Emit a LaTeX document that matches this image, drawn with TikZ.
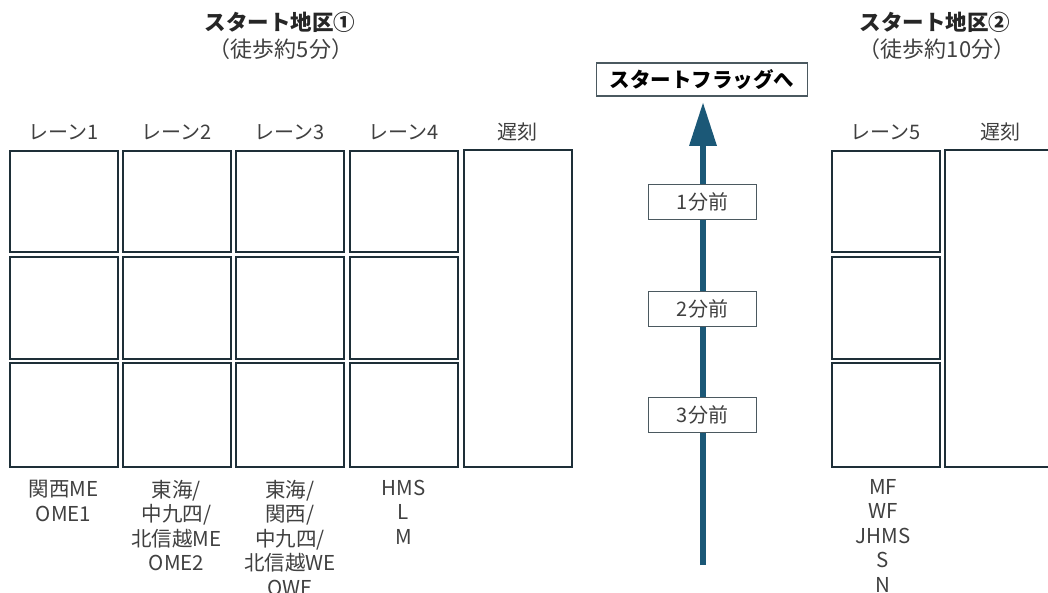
\documentclass[tikz,border=0pt]{standalone}
\usepackage{fontspec}
\setmainfont{Noto Sans CJK JP}
\usetikzlibrary{arrows.meta}
\definecolor{boxline}{HTML}{1E2F38}
\definecolor{txtgray}{HTML}{404040}
\definecolor{arrowblue}{HTML}{1B5877}
\begin{document}
\begin{tikzpicture}[x=1pt,y=-1pt,
  cell/.style={draw=boxline,line width=2pt,fill=white,inner sep=0pt,minimum width=108pt},
  lanelbl/.style={text=txtgray,font=\fontsize{20}{22}\selectfont,inner sep=0pt},
  grouplbl/.style={text=txtgray,font=\fontsize{20.5}{24.5}\selectfont,align=center,inner sep=0pt,anchor=north},
  ttl/.style={text=black!85,font=\fontsize{21.5}{24}\selectfont\bfseries,inner sep=0pt},
  subttl/.style={text=txtgray,font=\fontsize{22}{24}\selectfont,inner sep=0pt},
  timebox/.style={draw=boxline!80,line width=1.2pt,fill=white,minimum width=108pt,minimum height=35pt,inner sep=0pt,text=txtgray,font=\fontsize{20}{22}\selectfont},
  flagbox/.style={draw=boxline!80,line width=1.2pt,fill=white,minimum width=211pt,minimum height=33pt,inner sep=0pt,font=\fontsize{20.5}{22}\selectfont\bfseries}
]
\useasboundingbox (0,0) rectangle (1048,593);
\fill[white] (0,0) rectangle (1048,593);

% titles
\node[ttl] (t1) at (280,22) {スタート地区①};
\node[subttl] (s1) at (281,49) {（徒歩約5分）};
\node[ttl] (t2) at (935,22) {スタート地区②};
\node[subttl] (s2) at (937,49) {（徒歩約10分）};

% lane labels
\node[lanelbl] (h1) at (63.5,132) {レーン1};
\node[lanelbl] (h2) at (176.5,132) {レーン2};
\node[lanelbl] (h3) at (290,132) {レーン3};
\node[lanelbl] (h4) at (403.5,132) {レーン4};
\node[lanelbl] (h5) at (517.5,132) {遅刻};
\node[lanelbl] (h6) at (885.5,132) {レーン5};
\node[lanelbl] (h7) at (1000,132) {遅刻};

% lane cells
\foreach \n/\x in {a/63.5,b/176.5,c/290,d/403.5,e/885.5}{
  \node[cell,minimum height=101pt] (\n1) at (\x,201.5) {};
  \node[cell,minimum height=102pt] (\n2) at (\x,308) {};
  \node[cell,minimum height=104pt] (\n3) at (\x,415) {};
}
\node[cell,minimum height=317pt] (late1) at (517.5,308.5) {};
\node[cell,minimum width=112pt,minimum height=317pt,anchor=west] (late2) at (944,308.5) {};

% group labels
\node[grouplbl] (g1) at (63.5,480) {関西ME\\OME1};
\node[grouplbl] (g2) at (176.5,480) {東海/\\中九四/\\北信越ME\\OME2};
\node[grouplbl] (g3) at (290,480) {東海/\\関西/\\中九四/\\北信越WE\\OWE};
\node[grouplbl] (g4) at (403.5,480) {HMS\\L\\M};
\node[grouplbl] (g5) at (883,479) {MF\\WF\\JHMS\\S\\N};

% arrow
\node[flagbox] (flag) at (702,79.5) {スタートフラッグへ};
\coordinate (abot) at (703,565);
\coordinate (atop) at (703,102);
\draw[line width=6.5pt,arrowblue,-{Triangle[width=26pt,length=44pt]}] (abot) -- (atop);

\node[timebox] (m1) at (702.5,202) {1分前};
\node[timebox] (m2) at (702.5,309) {2分前};
\node[timebox] (m3) at (702.5,415) {3分前};
\end{tikzpicture}
\end{document}
